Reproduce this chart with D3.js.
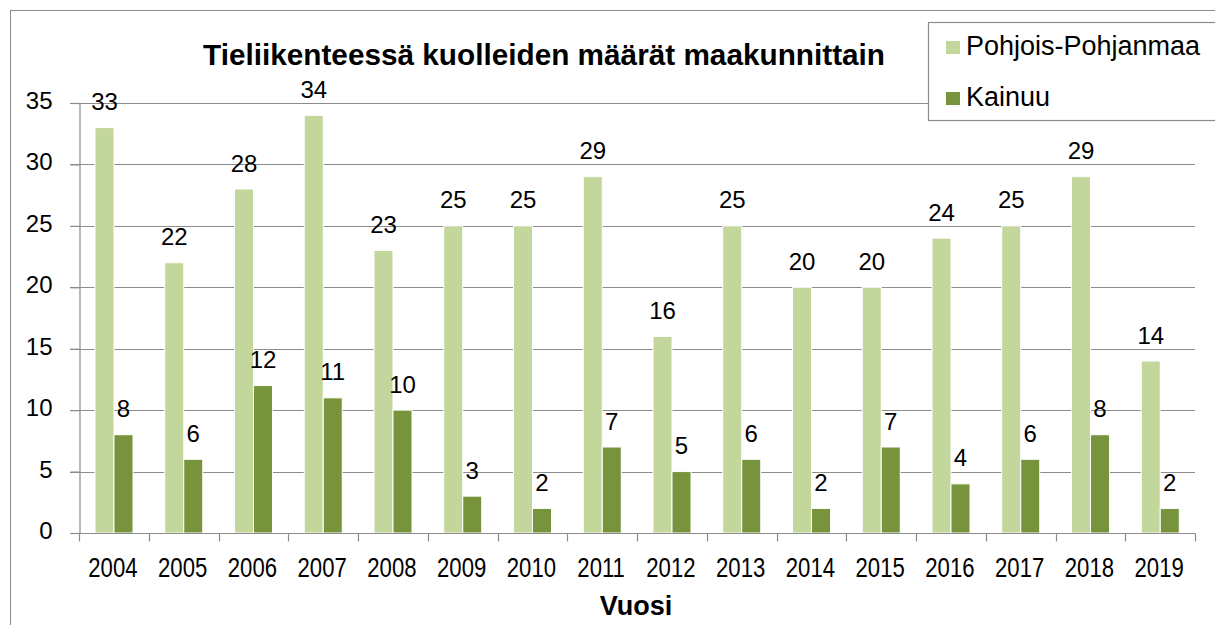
<!DOCTYPE html>
<html>
<head>
<meta charset="utf-8">
<script src="https://cdn.jsdelivr.net/npm/d3@7"></script>
<style>
  body { margin: 0; background: #fff; }
  svg { display: block; font-family: "Liberation Sans", Arial, sans-serif; }
</style>
</head>
<body>
<div id="chart"></div>
<script>
var years = ["2004","2005","2006","2007","2008","2009","2010","2011","2012","2013","2014","2015","2016","2017","2018","2019"];
var pohjoisPohjanmaa = [33,22,28,34,23,25,25,29,16,25,20,20,24,25,29,14];
var kainuu = [8,6,12,11,10,3,2,7,5,6,2,7,4,6,8,2];
var seriesNames = ["Pohjois-Pohjanmaa", "Kainuu"];
var yTicks = [0,5,10,15,20,25,30,35];

var colours = ["#c3d69b", "#77933c"];

function drawChart() {
    var W = 1215, H = 625;
    var plotLeft = 79, plotRight = 1195, plotTop = 103, plotBottom = 533;

    var svg = d3.select("#chart").append("svg")
        .attr("width", W).attr("height", H);

    // outer chart frame
    svg.append("rect")
        .attr("x", 10.5).attr("y", 10.5)
        .attr("width", 1230).attr("height", 700)
        .attr("fill", "none").attr("stroke", "#8c8c8c").attr("stroke-width", 1);

    var x0 = d3.scaleBand().domain(years).range([plotLeft, plotRight]).padding(0);
    var x1 = d3.scaleBand().domain(seriesNames).range([16, 54]).padding(0);
    var y = d3.scaleLinear().domain([0, 35]).range([plotBottom, plotTop]);

    // gridlines
    svg.append("g").selectAll("line").data(yTicks.filter(function(d) { return d > 0; })).enter()
        .append("line")
        .attr("x1", plotLeft - 9).attr("x2", plotRight)
        .attr("y1", function(d) { return Math.round(y(d)) + 0.5; })
        .attr("y2", function(d) { return Math.round(y(d)) + 0.5; })
        .attr("stroke", "#8c8c8c").attr("stroke-width", 1.2);

    // y axis
    var yAxis = svg.append("g")
        .attr("transform", "translate(" + (plotLeft + 0.5) + ",0)")
        .call(d3.axisLeft(y).tickValues(yTicks).tickSize(9).tickPadding(18));
    yAxis.select(".domain").attr("stroke", "#8c8c8c").attr("stroke-width", 1.2);
    yAxis.selectAll(".tick line").attr("stroke", "#8c8c8c").attr("stroke-width", 1.2);
    yAxis.selectAll(".tick text")
        .attr("font-size", "24px").attr("fill", "#000")
        .attr("font-family", "Liberation Sans, Arial, sans-serif")
        .attr("dy", "0.23em");

    // bars
    var rows = years.map(function(yr, i) {
        return { year: yr, values: [pohjoisPohjanmaa[i], kainuu[i]] };
    });
    var groups = svg.append("g").selectAll("g").data(rows).enter().append("g")
        .attr("transform", function(d) { return "translate(" + x0(d.year) + ",0)"; });

    groups.selectAll("rect").data(function(d) {
            return d.values.map(function(v, k) { return { name: seriesNames[k], value: v, k: k }; });
        }).enter().append("rect")
        .attr("x", function(d) { return x1(d.name); })
        .attr("width", x1.bandwidth())
        .attr("y", function(d) { return y(d.value); })
        .attr("height", function(d) { return plotBottom - y(d.value); })
        .attr("fill", function(d) { return colours[d.k]; })
        .attr("stroke", "#fff").attr("stroke-width", 1);

    // data labels
    groups.selectAll("text").data(function(d) {
            return d.values.map(function(v, k) { return { name: seriesNames[k], value: v }; });
        }).enter().append("text")
        .attr("x", function(d) { return x1(d.name) + x1.bandwidth() / 2; })
        .attr("y", function(d) { return y(d.value) - 17.5; })
        .attr("text-anchor", "middle")
        .attr("font-size", "24px")
        .text(function(d) { return d.value; });

    // x axis
    var xAxis = svg.append("g")
        .attr("transform", "translate(0," + (plotBottom + 0.5) + ")");
    xAxis.append("line")
        .attr("x1", plotLeft).attr("x2", plotRight + 0.5)
        .attr("stroke", "#8c8c8c").attr("stroke-width", 1.2);
    var tickPos = years.map(function(d) { return x0(d); }).concat([plotRight]);
    xAxis.selectAll(".xt").data(tickPos).enter().append("line")
        .attr("class", "xt")
        .attr("x1", function(d) { return Math.round(d) + 0.5; })
        .attr("x2", function(d) { return Math.round(d) + 0.5; })
        .attr("y1", 0).attr("y2", 8)
        .attr("stroke", "#8c8c8c").attr("stroke-width", 1.2);
    // year labels are in a narrow face in the original, squeeze them horizontally
    xAxis.selectAll(".yl").data(years).enter().append("text")
        .attr("class", "yl")
        .attr("transform", function(d) {
            return "translate(" + (x0(d) + x0.bandwidth() / 2 - 1) + ",43) scale(0.82,1)";
        })
        .attr("text-anchor", "middle")
        .attr("font-size", "27px")
        .text(function(d) { return d; });

    // axis title
    svg.append("text")
        .attr("x", 636).attr("y", 615)
        .attr("text-anchor", "middle")
        .attr("font-size", "27px").attr("font-weight", "bold")
        .text("Vuosi");

    // chart title
    svg.append("text")
        .attr("x", 544).attr("y", 65)
        .attr("text-anchor", "middle")
        .attr("font-size", "29px").attr("font-weight", "bold")
        .attr("textLength", 682).attr("lengthAdjust", "spacingAndGlyphs")
        .text("Tieliikenteessä kuolleiden määrät maakunnittain");

    // legend
    var legend = svg.append("g");
    legend.append("rect")
        .attr("x", 928.5).attr("y", 22.5)
        .attr("width", 320).attr("height", 98)
        .attr("fill", "#fff").attr("stroke", "#8c8c8c").attr("stroke-width", 1.2);
    var items = legend.selectAll("g").data(seriesNames).enter().append("g")
        .attr("transform", function(d, i) { return "translate(946," + (55 + i * 51) + ")"; });
    items.append("rect")
        .attr("x", 0).attr("y", -14)
        .attr("width", 14).attr("height", 13)
        .attr("fill", function(d, i) { return colours[i]; });
    items.append("text")
        .attr("x", 20).attr("y", 0)
        .attr("font-size", "27px")
        .text(function(d) { return d; });
}

drawChart();
</script>
</body>
</html>
